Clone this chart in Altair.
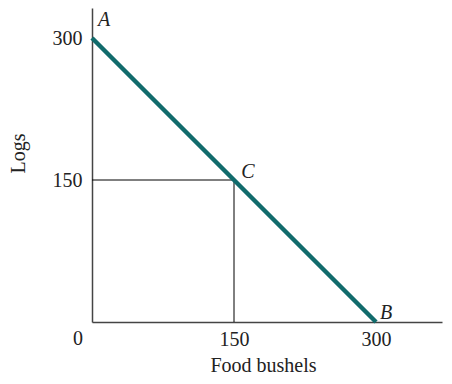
import altair as alt
import pandas as pd

# Data
line_x = [0, 300]
line_y = [300, 0]
point_labels = ["A", "C", "B"]
point_x = [0, 150, 300]
point_y = [300, 150, 0]
label_dx = [12, 14, 10]
label_dy = [-18, -8, -9]
guide_x = [0, 150]
guide_y = [150, 150]
guide_x2 = [150, 150]
guide_y2 = [150, 0]

FONT = "Liberation Serif"
FS = 20
TEAL = "#116b6c"

xs = alt.Scale(domain=[0, 369.7], nice=False, zero=False)
ys = alt.Scale(domain=[0, 331.7], nice=False, zero=False)

line_df = pd.DataFrame({"x": line_x, "y": line_y})
guides_df = pd.DataFrame({"x": guide_x, "y": guide_y, "x2": guide_x2, "y2": guide_y2})

xaxis = alt.Axis(
    title="Food bushels", values=[150, 300], ticks=False, grid=False,
    domainColor="#444", domainWidth=1.5, labelFont=FONT, labelFontSize=FS,
    labelColor="#222", labelPadding=7, titleFont=FONT, titleFontSize=FS,
    titleFontWeight="normal", titleColor="#222", titleX=171, titleY=49,
    titleBaseline="alphabetic",
)
yaxis = alt.Axis(
    title="Logs", values=[150, 300], ticks=False, grid=False,
    domainColor="#444", domainWidth=1.5, labelFont=FONT, labelFontSize=FS,
    labelColor="#222", labelPadding=10, titleFont=FONT, titleFontSize=FS,
    titleFontWeight="normal", titleColor="#222", titleX=-74, titleY=145,
    titleBaseline="middle", titleAngle=-90,
)

guides = alt.Chart(guides_df).mark_rule(color="black", strokeWidth=1).encode(
    x=alt.X("x:Q", scale=xs, axis=xaxis),
    y=alt.Y("y:Q", scale=ys, axis=yaxis),
    x2="x2:Q", y2="y2:Q",
)

line = alt.Chart(line_df).mark_line(color=TEAL, strokeWidth=4.5, strokeCap="butt").encode(
    x=alt.X("x:Q", scale=xs), y=alt.Y("y:Q", scale=ys)
)

texts = []
for lab, x, y, dx, dy in zip(point_labels, point_x, point_y, label_dx, label_dy):
    d = pd.DataFrame({"label": [lab], "x": [x], "y": [y]})
    texts.append(
        alt.Chart(d).mark_text(font=FONT, fontSize=FS, fontStyle="italic",
                               color="#222", dx=dx, dy=dy, baseline="middle")
        .encode(x=alt.X("x:Q", scale=xs), y=alt.Y("y:Q", scale=ys), text="label:N")
    )

zero_df = pd.DataFrame({"x": [0], "y": [0], "t": ["0"]})
zero = alt.Chart(zero_df).mark_text(font=FONT, fontSize=FS, color="#222",
                                    dx=-14, dy=17, baseline="middle").encode(
    x=alt.X("x:Q", scale=xs), y=alt.Y("y:Q", scale=ys), text="t:N"
)

chart = alt.layer(guides, line, *texts, zero).properties(
    width=350, height=314,
    background="white",
    autosize=alt.AutoSizeParams(type="none"),
    padding={"left": 84, "top": 0, "right": 2, "bottom": 54},
).configure_view(strokeWidth=0, stroke=None)

chart.save("out.html", embed_options={"renderer": "svg", "actions": False})
